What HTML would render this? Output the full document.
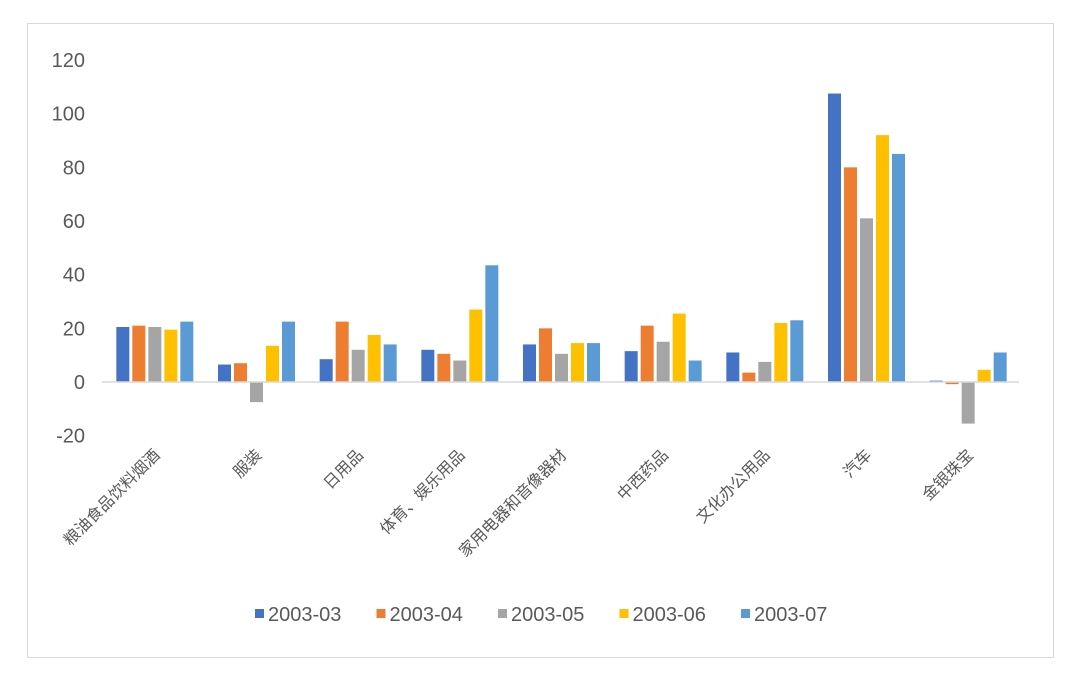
<!DOCTYPE html>
<html><head><meta charset="utf-8"><style>
body{margin:0;background:#fff;}
svg{display:block;font-family:"Liberation Sans","Noto Sans CJK SC",sans-serif;}
</style></head><body>
<svg width="1080" height="674">
<rect x="27.5" y="23.5" width="1026" height="634" fill="#fff" stroke="#d9d9d9"/>
<g id="plot"></g>
</svg>
<script>
const categories=["粮油食品饮料烟酒","服装","日用品","体育、娱乐用品","家用电器和音像器材","中西药品","文化办公用品","汽车","金银珠宝"];
const seriesNames=["2003-03","2003-04","2003-05","2003-06","2003-07"];
const s0=[20.5,6.5,8.5,12,14,11.5,11,107.5,0.5];
const s1=[21,7,22.5,10.5,20,21,3.5,80,-0.8];
const s2=[20.5,-7.5,12,8,10.5,15,7.5,61,-15.5];
const s3=[19.5,13.5,17.5,27,14.5,25.5,22,92,4.5];
const s4=[22.5,22.5,14,43.5,14.5,8,23,85,11];
const yTicks=[-20,0,20,40,60,80,100,120];
const series=[s0,s1,s2,s3,s4];
const colors=["#4472C4","#ED7D31","#A5A5A5","#FFC000","#5B9BD5"];
const NS="http://www.w3.org/2000/svg";
const g=document.getElementById('plot');
const x0=104,x1=1019,cw=(x1-x0)/categories.length;
function y(v){return 382-v*(322/120);}
function mk(t,a){const e=document.createElementNS(NS,t);for(const k in a)e.setAttribute(k,a[k]);g.appendChild(e);return e;}
yTicks.forEach(t=>{const e=mk('text',{x:85,y:y(t)+7,'text-anchor':'end','font-size':20,fill:'#595959'});e.textContent=t;

});
const bw=13,pitch=16;
categories.forEach((c,i)=>{
 const cx=x0+cw*(i+0.5);
 series.forEach((s,j)=>{
  const v=s[i];const bx=cx-2.5*pitch+j*pitch+1.5;
  const r=mk('rect',{x:bx,y:Math.min(y(v),y(0)),width:bw,height:Math.abs(y(v)-y(0)),fill:colors[j]});
  
  
 });
 const t=mk('text',{x:cx+6,y:456,'text-anchor':'end','font-size':16,fill:'#595959',transform:`rotate(-45 ${cx+6} 456)`});
 t.textContent=c;
 
 
});
const ax=mk('line',{x1:x0-2,x2:x1,y1:y(0),y2:y(0),stroke:'#d9d9d9','stroke-width':1.5});


seriesNames.forEach((n,j)=>{
 const lx=255+j*121.5;
 const r=mk('rect',{x:lx,y:609,width:9,height:9,fill:colors[j]});
 
 
 const t=mk('text',{x:lx+13,y:621,'font-size':20,fill:'#595959'});
 t.textContent=n;
 
 
});
</script>
</body></html>
